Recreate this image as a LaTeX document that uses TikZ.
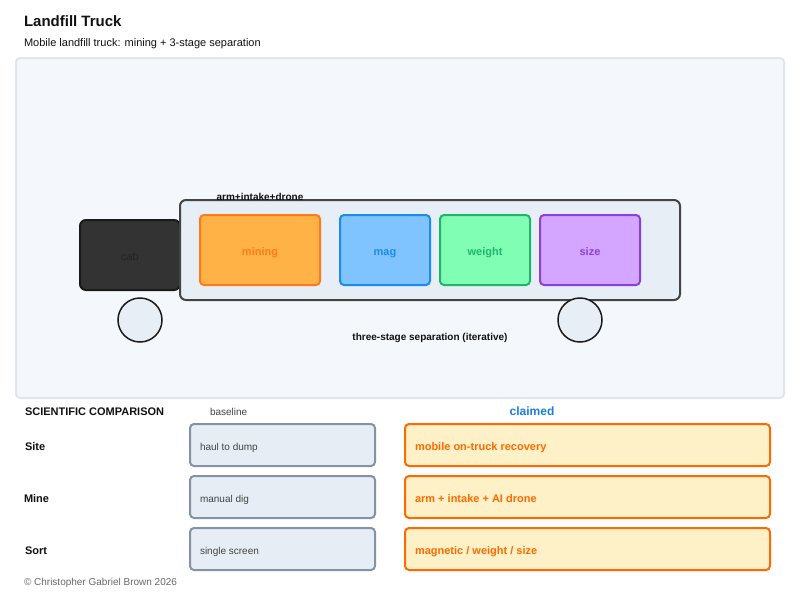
\documentclass[tikz,border=0pt]{standalone}
\usepackage{fontspec}
\setmainfont{Liberation Sans}
% Font sizes are given in pixels of the 800 by 600 canvas (1px = 0.75pt).
\newcommand{\pxfont}[1]{\fontsize{\dimexpr #1pt*3/4\relax}{\dimexpr #1pt*9/10\relax}\selectfont}
\definecolor{panelfill}{HTML}{F4F7FB}
\definecolor{panelline}{HTML}{E0E6EE}
\definecolor{bodyfill}{HTML}{E8EEF6}
\definecolor{bodyline}{HTML}{444444}
\definecolor{cabfill}{HTML}{333333}
\definecolor{cabline}{HTML}{1A1A1A}
\definecolor{miningfill}{HTML}{FFB347}
\definecolor{miningline}{HTML}{FF7A1A}
\definecolor{magfill}{HTML}{80C4FF}
\definecolor{magline}{HTML}{1A8CF0}
\definecolor{weightfill}{HTML}{80FFB4}
\definecolor{weightline}{HTML}{1FB56C}
\definecolor{sizefill}{HTML}{D4A6FF}
\definecolor{sizeline}{HTML}{8B3FE0}
\definecolor{basefill}{HTML}{E6EDF5}
\definecolor{baseline}{HTML}{8492A6}
\definecolor{claimfill}{HTML}{FFF1C7}
\definecolor{claimline}{HTML}{FF6A00}
\definecolor{ink}{HTML}{111111}
\definecolor{muted}{HTML}{444444}
\definecolor{claimblue}{HTML}{1A7FE0}
\tikzset{
  rbox/.style={draw, outer sep=0pt, inner sep=0pt, line width=1.5pt, rounded corners=3pt},
  stage/.style={rbox, minimum height=52.5pt},
  rowbox/.style={rbox, minimum height=31.5pt},
  basebox/.style={rowbox, minimum width=138.75pt, fill=basefill, draw=baseline},
  claimbox/.style={rowbox, minimum width=273.75pt, fill=claimfill, draw=claimline},
  wheel/.style={circle, draw=cabline, fill=bodyfill, line width=1.125pt, minimum size=33pt, outer sep=0pt, inner sep=0pt},
  lab/.style={anchor=base west, inner sep=0pt, outer sep=0pt},
  mid/.style={anchor=base, inner sep=0pt, outer sep=0pt},
  stagelab/.style={mid, font=\bfseries\pxfont{11}},
}
\begin{document}
\begin{tikzpicture}[x=0.75pt,y=-0.75pt]
\useasboundingbox (0,0) rectangle (800,600);
\fill[white] (0,0) rectangle (800,600);

\node[lab, text=ink, font=\bfseries\pxfont{15}] (title) at (24,26) {Landfill Truck};
\node[lab, text=ink, font=\pxfont{11}] (subtitle) at (24,46) {Mobile landfill truck: mining + 3-stage separation};

\node[rbox, fill=panelfill, draw=panelline, minimum width=576pt, minimum height=255pt] (panel) at (400,228) {};

% Truck
\node[rbox, fill=cabfill, draw=cabline, rounded corners=4.5pt, minimum width=75pt, minimum height=52.5pt] (cab) at (130,255) {};
\node[mid, text=cabfill!70!black, font=\pxfont{11}] (cablabel) at (130,260) {cab};
\node[rbox, fill=bodyfill, draw=bodyline, rounded corners=4.5pt, minimum width=375pt, minimum height=75pt] (body) at (430,250) {};
\node[stage, fill=miningfill, draw=miningline, minimum width=90pt] (mining) at (260,250) {};
\node[stage, fill=magfill, draw=magline, minimum width=67.5pt] (mag) at (385,250) {};
\node[stage, fill=weightfill, draw=weightline, minimum width=67.5pt] (weight) at (485,250) {};
\node[stage, fill=sizefill, draw=sizeline, minimum width=75pt] (size) at (590,250) {};
\node[stagelab, text=miningline] (miningt) at (260,255) {mining};
\node[stagelab, text=magline] (magt) at (385,255) {mag};
\node[stagelab, text=weightline] (weightt) at (485,255) {weight};
\node[stagelab, text=sizeline] (sizet) at (590,255) {size};
\node[wheel] (wheelfront) at (140,320) {};
\node[wheel] (wheelrear) at (580,320) {};
\node[mid, text=ink, font=\bfseries\pxfont{10}] (armlabel) at (260,200) {arm+intake+drone};
\node[mid, text=ink, font=\bfseries\pxfont{10}] (sepnote) at (430,340) {three-stage separation (iterative)};

% Comparison table
\node[lab, text=ink, font=\bfseries\pxfont{11}] (heading) at (25,415) {SCIENTIFIC COMPARISON};
\node[lab, text=muted, font=\pxfont{10}] (basehead) at (210,415) {baseline};
\node[mid, text=claimblue, font=\bfseries\pxfont{12}] (claimhead) at (532,415) {claimed};

\node[lab, text=ink, font=\bfseries\pxfont{11}] (site) at (25,450) {Site};
\node[lab, text=ink, font=\bfseries\pxfont{11}] (mine) at (24,502) {Mine};
\node[lab, text=ink, font=\bfseries\pxfont{11}] (sort) at (25,554) {Sort};

\node[basebox] (b1) at (282.5,445) {};
\node[basebox] (b2) at (282.5,497) {};
\node[basebox] (b3) at (282.5,549) {};
\node[claimbox] (c1) at (587.5,445) {};
\node[claimbox] (c2) at (587.5,497) {};
\node[claimbox] (c3) at (587.5,549) {};

\node[lab, text=muted, font=\pxfont{10}] (b1t) at (200,450) {haul to dump};
\node[lab, text=muted, font=\pxfont{10}] (b2t) at (200,502) {manual dig};
\node[lab, text=muted, font=\pxfont{10}] (b3t) at (200,554) {single screen};
\node[lab, text=claimline, font=\bfseries\pxfont{11}] (c1t) at (415,450) {mobile on-truck recovery};
\node[lab, text=claimline, font=\bfseries\pxfont{11}] (c2t) at (415,502) {arm + intake + AI drone};
\node[lab, text=claimline, font=\bfseries\pxfont{11}] (c3t) at (415,554) {magnetic / weight / size};

\node[lab, text=muted!80, font=\pxfont{10}] (credit) at (24,585) {© Christopher Gabriel Brown 2026};
\end{tikzpicture}
\end{document}
